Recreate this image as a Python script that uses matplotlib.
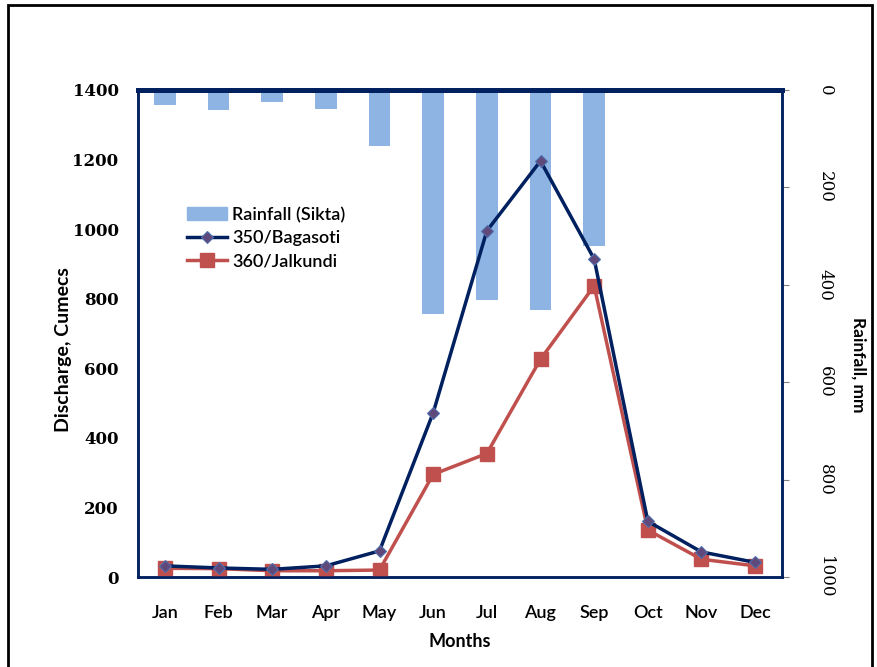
import matplotlib.pyplot as plt
from matplotlib.patches import Rectangle, Patch

months = ["Jan", "Feb", "Mar", "Apr", "May", "Jun", "Jul", "Aug", "Sep", "Oct", "Nov", "Dec"]
rainfall_sikta = [30, 42, 25, 38, 114, 459, 431, 451, 320, 0, 0, 0]
bagasoti = [32, 26, 22, 32, 75, 472, 995, 1196, 914, 160, 72, 42]
jalkundi = [25, 24, 18, 18, 20, 295, 355, 626, 837, 135, 51, 32]

navy = "#002060"
red = "#C0504D"
bar_blue = "#8EB4E3"

fig = plt.figure(figsize=(8.77, 6.67), dpi=100)
ax = fig.add_axes([138 / 877, 1 - 577 / 667, 644 / 877, 487 / 667])
ax2 = ax.twinx()

x = list(range(1, 13))

# rainfall bars hang from the top (inverted right axis)
ax2.bar(x, rainfall_sikta, width=0.4, color=bar_blue, zorder=1)
ax2.set_ylim(1000, 0)
ax2.set_yticks([0, 200, 400, 600, 800, 1000])
ax2.set_yticklabels(["0", "200", "400", "600", "800", "1000"], rotation=270,
                    va="center", family="DejaVu Serif", fontsize=12)
ax2.tick_params(axis="y", length=5, color="gray", pad=20)
ax2.set_ylabel("Rainfall, mm", rotation=270, fontsize=12.5, fontweight="bold",
               family="Lato", va="center")
ax2.yaxis.set_label_coords(1.118, 0.435)

# discharge lines on top
ax.set_zorder(ax2.get_zorder() + 1)
ax.patch.set_visible(False)
l1, = ax.plot(x, bagasoti, color=navy, lw=2.5, marker="D", markersize=6,
              markerfacecolor="#5F497A", markeredgecolor="#4F6FAF", markeredgewidth=0.8,
              label="350/Bagasoti", zorder=3)
l2, = ax.plot(x, jalkundi, color=red, lw=2.5, marker="s", markersize=10,
              markerfacecolor=red, markeredgecolor=red, label="360/Jalkundi", zorder=2)

ax.set_xlim(0.5, 12.5)
ax.set_ylim(0, 1400)
ax.set_xticks(x)
ax.set_xticklabels(months, family="Lato", fontsize=13, fontweight="semibold")
ax.set_yticks(range(0, 1401, 200))
ax.set_yticklabels([str(v) for v in range(0, 1401, 200)], family="DejaVu Serif",
                   fontsize=12, fontweight="bold")
ax.tick_params(axis="x", length=0, pad=20)
ax.tick_params(axis="y", length=0, pad=14)
ax.set_xlabel("Months", family="Lato", fontsize=13, fontweight="bold", labelpad=9)
ax.set_ylabel("Discharge, Cumecs", family="Lato", fontsize=14, fontweight="bold", va="center")
ax.yaxis.set_label_coords(-0.116, 0.466)

for a in (ax, ax2):
    for side in ("left", "right", "bottom"):
        a.spines[side].set_color(navy)
        a.spines[side].set_linewidth(1.8)
    a.spines["top"].set_color(navy)
    a.spines["top"].set_linewidth(3.5)

handles = [Patch(color=bar_blue, label="Rainfall (Sikta)"), l1, l2]
ax.legend(handles=handles, loc="upper left", bbox_to_anchor=(0.065, 0.775),
          frameon=False, prop={"family": "Lato", "size": 13, "weight": "semibold"},
          handlelength=2.2, handletextpad=0.3, labelspacing=0.4, borderaxespad=0)

# outer frame around the chart
fig.patches.append(Rectangle((8 / 877, -0.01), 864 / 877, 1 - 5 / 667 + 0.01,
                             transform=fig.transFigure, fill=False, edgecolor="black",
                             linewidth=2, zorder=10))

fig.savefig("out.png", dpi=100)
